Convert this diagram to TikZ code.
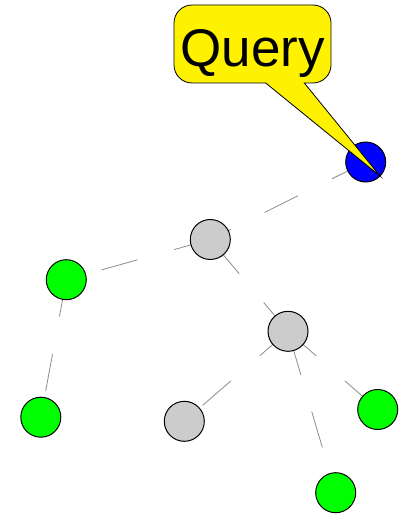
\documentclass[tikz,border=0pt]{standalone}
\usepackage{fontspec}
\setmainfont{Liberation Sans}
\pgfdeclarelayer{edges}
\pgfsetlayers{edges,main}
\definecolor{nodegray}{HTML}{CCCCCC}
\definecolor{edgegray}{HTML}{8C8C8C}
\begin{document}
\begin{tikzpicture}[x=1pt,y=-1pt,
  vertex/.style={circle,draw=black,line width=1pt,minimum size=40pt,inner sep=0pt},
  qnode/.style={vertex,fill=blue},
  inner/.style={vertex,fill=nodegray},
  leaf/.style={vertex,fill=green},
  edge/.style={draw=edgegray,line width=0.8pt,dash pattern=on 37.5pt off 38pt},
  callout/.style={draw=black,line width=0.8pt,fill=yellow}]
\useasboundingbox (0,0) rectangle (403,516);

% tree nodes
\node[qnode] (b)  at (365.7,162.0) {};
\node[inner] (g1) at (210.3,239.5) {};
\node[leaf]  (n1) at (66.3,279.7) {};
\node[leaf]  (n2) at (40.8,417.2) {};
\node[inner] (g2) at (288.0,331.3) {};
\node[inner] (g3) at (184.3,421.3) {};
\node[leaf]  (n3) at (377.7,409.5) {};
\node[leaf]  (n4) at (335.7,492.7) {};

% dashed links, kept beneath the nodes
\begin{pgfonlayer}{edges}
  \draw[edge] (b.center)  -- (g1.center);
  \draw[edge] (g1.center) -- (n1.center);
  \draw[edge] (n1.center) -- (n2.center);
  \draw[edge] (g2.center) -- (g1.center);
  \draw[edge] (g2.center) -- (g3.center);
  \draw[edge] (g2.center) -- (n3.center);
  \draw[edge,dash phase=67.3pt] (g2.center) -- (n4.center);
\end{pgfonlayer}

% speech bubble pointing at the query node
\coordinate (tip) at (380,176);
\draw[callout] (265.7,83) -- (tip) -- (304.3,83) -- (313,83)
  .. controls (322.9,83) and (331,74.9) .. (331,65) -- (331,23)
  .. controls (331,13.1) and (322.9,5) .. (313,5) -- (192,5)
  .. controls (182.1,5) and (174,13.1) .. (174,23) -- (174,65)
  .. controls (174,74.9) and (182.1,83) .. (192,83) -- cycle;
\node[anchor=base,inner sep=0pt,font=\fontsize{53}{60}\selectfont] (q) at (252.5,67) {Query};
\end{tikzpicture}
\end{document}
